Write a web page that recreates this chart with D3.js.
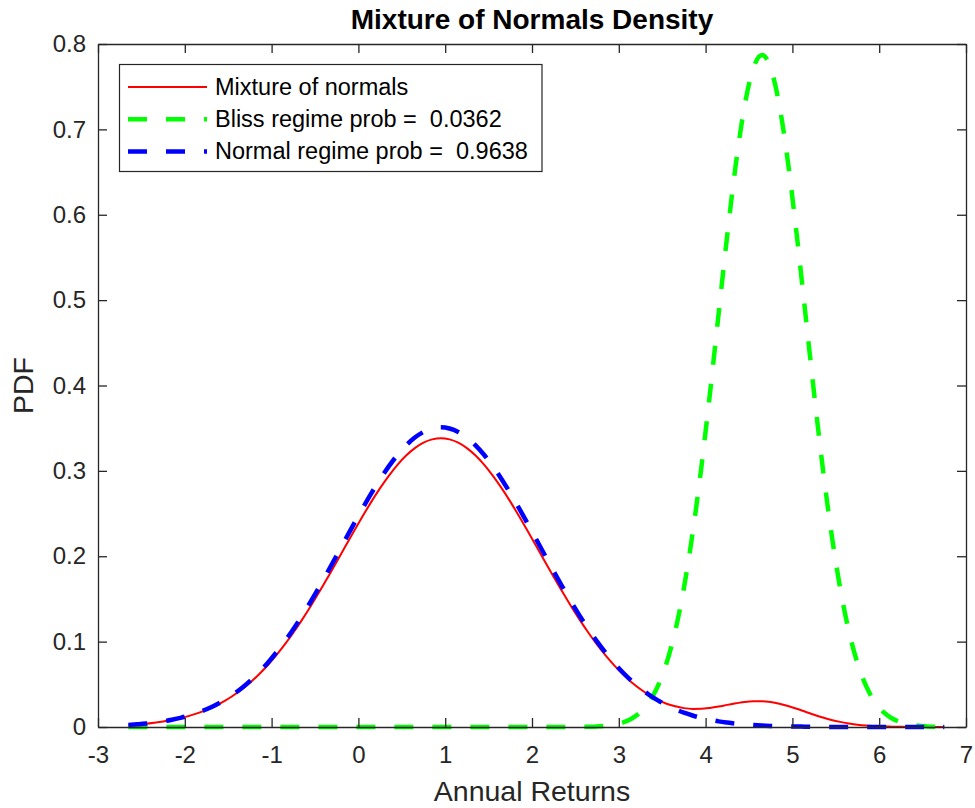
<!doctype html>
<html>
    <head>
	<title>Mixture of Normals Density</title>
	<script src="https://cdn.jsdelivr.net/npm/d3@7"></script>
	<meta charset="utf-8" />
	<style>
	 body { margin: 0; background: #fff; }
	 text { font-family: "Liberation Sans", Arial, sans-serif; fill: #262626; }
	</style>
    </head>
    <body>
	<script type="text/javascript">

	 // grid of annual returns
	 var returns = [
	     -2.65,-2.55,-2.45,-2.35,-2.25,-2.15,-2.05,-1.95,-1.85,-1.75,
	     -1.65,-1.55,-1.45,-1.35,-1.25,-1.15,-1.05,-0.95,-0.85,-0.75,
	     -0.65,-0.55,-0.45,-0.35,-0.25,-0.15,-0.05,0.05,0.15,0.25,
	     0.35,0.45,0.55,0.65,0.75,0.85,0.95,1.05,1.15,1.25,
	     1.35,1.45,1.55,1.65,1.75,1.85,1.95,2.05,2.15,2.25,
	     2.35,2.45,2.55,2.65,2.75,2.85,2.95,3.05,3.15,3.25,
	     3.35,3.45,3.55,3.65,3.75,3.85,3.95,4.05,4.15,4.25,
	     4.35,4.45,4.55,4.65,4.75,4.85,4.95,5.05,5.15,5.25,
	     5.35,5.45,5.55,5.65,5.75,5.85,5.95,6.05,6.15,6.25,
	     6.35,6.45,6.55,6.65,6.75
	 ];

	 var mixturePdf = [
	     0.0022,0.0030,0.0038,0.0050,0.0064,0.0082,0.0103,0.0130,0.0162,0.0201,
	     0.0246,0.0300,0.0363,0.0436,0.0518,0.0613,0.0718,0.0835,0.0964,0.1104,
	     0.1255,0.1415,0.1583,0.1758,0.1936,0.2117,0.2297,0.2471,0.2640,0.2798,
	     0.2942,0.3071,0.3180,0.3267,0.3331,0.3369,0.3383,0.3369,0.3331,0.3267,
	     0.3180,0.3071,0.2942,0.2798,0.2640,0.2471,0.2297,0.2117,0.1936,0.1758,
	     0.1583,0.1415,0.1255,0.1104,0.0964,0.0836,0.0719,0.0615,0.0522,0.0442,
	     0.0374,0.0317,0.0273,0.0242,0.0221,0.0212,0.0213,0.0223,0.0239,0.0259,
	     0.0277,0.0294,0.0301,0.0301,0.0292,0.0273,0.0246,0.0214,0.0179,0.0144,
	     0.0112,0.0083,0.0060,0.0042,0.0027,0.0017,0.0011,0.0006,0.0004,0.0002,
	     0.0001,0.0001,0,0,0
	 ];

	 var blissPdf = [
	     0,0,0,0,0,0,0,0,0,0,
	     0,0,0,0,0,0,0,0,0,0,
	     0,0,0,0,0,0,0,0,0,0,
	     0,0,0,0,0,0,0,0,0,0,
	     0,0,0,0,0,0,0,0,0,0,
	     0.0000,0.0001,0.0002,0.0003,0.0007,0.0014,0.0029,0.0054,0.0099,0.0174,
	     0.0294,0.0478,0.0748,0.1125,0.1628,0.2267,0.3034,0.3907,0.4840,0.5765,
	     0.6606,0.7281,0.7718,0.7870,0.7718,0.7281,0.6606,0.5765,0.4840,0.3907,
	     0.3034,0.2267,0.1628,0.1125,0.0748,0.0478,0.0294,0.0174,0.0099,0.0054,
	     0.0029,0.0014,0.0007,0.0003,0.0002
	 ];

	 var normalPdf = [
	     0.0023,0.0031,0.0040,0.0052,0.0066,0.0085,0.0107,0.0135,0.0168,0.0208,
	     0.0256,0.0312,0.0377,0.0452,0.0538,0.0636,0.0745,0.0867,0.1000,0.1146,
	     0.1302,0.1468,0.1642,0.1824,0.2009,0.2196,0.2383,0.2564,0.2739,0.2903,
	     0.3053,0.3186,0.3299,0.3390,0.3456,0.3496,0.3510,0.3496,0.3456,0.3390,
	     0.3299,0.3186,0.3053,0.2903,0.2739,0.2564,0.2383,0.2196,0.2009,0.1824,
	     0.1642,0.1468,0.1302,0.1146,0.1000,0.0867,0.0745,0.0636,0.0538,0.0452,
	     0.0377,0.0312,0.0256,0.0208,0.0168,0.0135,0.0107,0.0085,0.0066,0.0052,
	     0.0040,0.0031,0.0023,0.0017,0.0013,0.0010,0.0007,0.0005,0.0004,0.0003,
	     0.0002,0.0001,0.0001,0.0001,0,0,0,0,0,0,
	     0,0,0,0,0
	 ];

	 var xTicks = [-3,-2,-1,0,1,2,3,4,5,6,7];
	 var yTicks = [0,0.1,0.2,0.3,0.4,0.5,0.6,0.7,0.8];

	 var legendLabels = ["Mixture of normals",
			     "Bliss regime prob =  0.0362",
			     "Normal regime prob =  0.9638"];

	 var w = 975;
	 var h = 808;
	 var plotLeft = 98, plotRight = 966, plotTop = 44, plotBottom = 727;
	 var axisColor = "#262626";
	 var tickFont = "'Liberation Sans', Arial, sans-serif";

	 var svg = d3.select("body")
		     .append("svg")
		     .attr("width", w)
		     .attr("height", h);

	 var xScale = d3.scaleLinear()
			.domain([-3, 7])
			.range([plotLeft, plotRight]);

	 var yScale = d3.scaleLinear()
			.domain([0, 0.8])
			.range([plotBottom, plotTop]);

	 var series = [
	     {name: legendLabels[0], values: mixturePdf, color: "#ff0000", width: 2, dash: null},
	     {name: legendLabels[1], values: blissPdf, color: "#00ff00", width: 4.5, dash: "19,19"},
	     {name: legendLabels[2], values: normalPdf, color: "#0000ff", width: 4.5, dash: "19,19"}
	 ];

	 var line = d3.line()
		      .x(function(d){ return xScale(d[0]); })
		      .y(function(d){ return yScale(d[1]); })
		      .curve(d3.curveMonotoneX);

	 // curves
	 svg.selectAll(".curve")
	    .data(series)
	    .enter()
	    .append("path")
	    .attr("class", "curve")
	    .attr("fill", "none")
	    .attr("stroke", function(d){ return d.color; })
	    .attr("stroke-width", function(d){ return d.width; })
	    .attr("stroke-dasharray", function(d){ return d.dash; })
	    .attr("d", function(d){
		return line(returns.map(function(x, i){ return [x, d.values[i]]; }));
	    });

	 // axes, MATLAB style: ticks inward on all four sides
	 var tickLen = 9;
	 var styleAxis = function(g){
	     g.select(".domain").attr("stroke", axisColor).attr("stroke-width", 1.3);
	     g.selectAll(".tick line").attr("stroke", axisColor).attr("stroke-width", 1.3);
	     g.selectAll(".tick text").attr("font-size", "24px").attr("fill", axisColor)
	      .style("font-family", tickFont);
	 };

	 svg.append("g")
	    .attr("transform", "translate(0," + plotBottom + ")")
	    .call(d3.axisBottom(xScale).tickValues(xTicks).tickSizeInner(-tickLen).tickSizeOuter(0)
		    .tickPadding(19).tickFormat(function(d){ return String(d); }))
	    .call(styleAxis);

	 svg.append("g")
	    .attr("transform", "translate(0," + plotTop + ")")
	    .call(d3.axisTop(xScale).tickValues(xTicks).tickSizeInner(-tickLen).tickSizeOuter(0).tickFormat(""))
	    .call(styleAxis);

	 svg.append("g")
	    .attr("transform", "translate(" + plotLeft + ",0)")
	    .call(d3.axisLeft(yScale).tickValues(yTicks).tickSizeInner(-tickLen).tickSizeOuter(0)
		    .tickPadding(12).tickFormat(function(d){ return d === 0 ? "0" : d3.format(".1f")(d); }))
	    .call(styleAxis);

	 svg.append("g")
	    .attr("transform", "translate(" + plotRight + ",0)")
	    .call(d3.axisRight(yScale).tickValues(yTicks).tickSizeInner(-tickLen).tickSizeOuter(0).tickFormat(""))
	    .call(styleAxis);

	 // titles
	 svg.append("text")
	    .attr("x", (plotLeft + plotRight) / 2)
	    .attr("y", 29)
	    .attr("text-anchor", "middle")
	    .attr("font-size", "28px")
	    .attr("font-weight", "bold")
	    .style("fill", "#000")
	    .text("Mixture of Normals Density");

	 svg.append("text")
	    .attr("x", (plotLeft + plotRight) / 2)
	    .attr("y", 801)
	    .attr("text-anchor", "middle")
	    .attr("font-size", "28.5px")
	    .text("Annual Returns");

	 svg.append("text")
	    .attr("transform", "translate(33," + ((plotTop + plotBottom) / 2) + ") rotate(-90)")
	    .attr("text-anchor", "middle")
	    .attr("font-size", "28.5px")
	    .text("PDF");

	 // legend
	 var legend = svg.append("g");

	 legend.append("rect")
	       .attr("x", 119.5)
	       .attr("y", 64.5)
	       .attr("width", 422.5)
	       .attr("height", 107)
	       .attr("fill", "#fff")
	       .attr("stroke", axisColor)
	       .attr("stroke-width", 1.2);

	 var rows = legend.selectAll(".row")
			  .data(series)
			  .enter()
			  .append("g")
			  .attr("class", "row")
			  .attr("transform", function(d, i){ return "translate(0," + (87 + i * 32.2) + ")"; });

	 rows.append("line")
	     .attr("x1", 128)
	     .attr("x2", 207)
	     .attr("stroke", function(d){ return d.color; })
	     .attr("stroke-width", function(d){ return d.width; })
	     .attr("stroke-dasharray", function(d){ return d.dash; });

	 rows.append("text")
	     .attr("x", 215)
	     .attr("y", 8)
	     .attr("font-size", "23.5px")
	     .style("white-space", "pre")
	     .style("fill", "#000")
	     .text(function(d){ return d.name; });

	</script>
    </body>
</html>
